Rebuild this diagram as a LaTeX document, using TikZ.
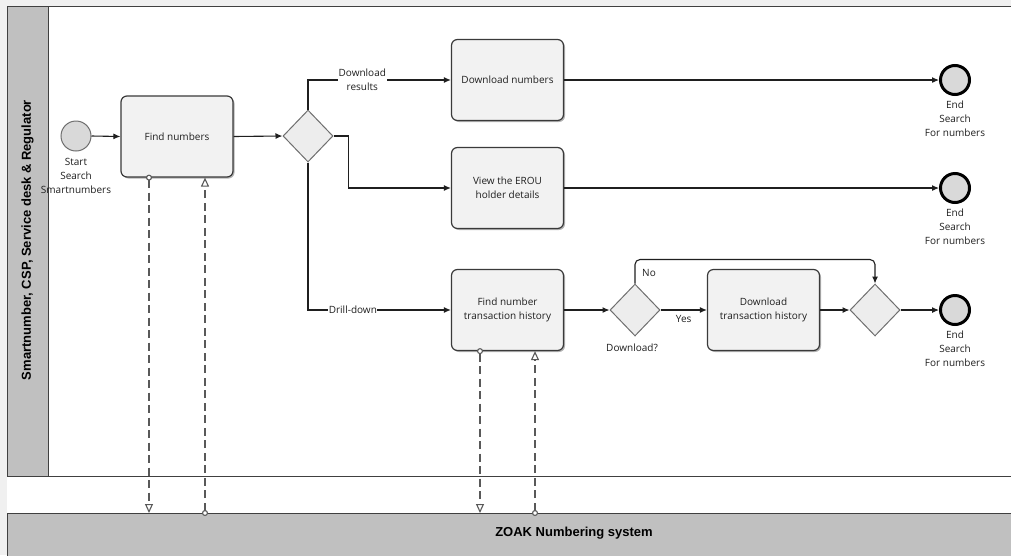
\documentclass[tikz,border=0pt]{standalone}
\usepackage{fontspec}
\setmainfont{Open Sans}
\newfontfamily\lanefont{Liberation Sans}
\usetikzlibrary{arrows.meta,shapes.geometric,shadows,calc}

\definecolor{bggray}{HTML}{F0F0F0}
\definecolor{lanegray}{HTML}{C0C0C0}
\definecolor{frame}{HTML}{404040}
\definecolor{taskfill}{HTML}{F2F2F2}
\definecolor{taskline}{HTML}{3A3A3A}
\definecolor{gatefill}{HTML}{EDEDED}
\definecolor{gateline}{HTML}{6F6F6F}
\definecolor{evfill}{HTML}{D9D9D9}
\definecolor{flowline}{HTML}{1F1F1F}
\definecolor{msgline}{HTML}{595959}
\definecolor{labeltext}{HTML}{1F1F1F}

\newcommand\bodyfont{\fontsize{10}{14}\selectfont}

\tikzset{
  task/.style={draw=taskline, fill=taskfill, rounded corners=6pt, line width=1.2pt,
    minimum width=112pt, minimum height=81pt, align=center, font=\bodyfont, text=labeltext,
    drop shadow={shadow xshift=1.5pt, shadow yshift=-1.5pt, opacity=0.3, fill=black}},
  gate/.style={diamond, draw=gateline, fill=gatefill, line width=1pt,
    minimum width=50pt, minimum height=52pt, inner sep=0pt},
  startev/.style={circle, draw=gateline, fill=evfill, line width=1pt, minimum size=30pt, inner sep=0pt},
  endev/.style={circle, draw=black, fill=evfill, line width=3pt, minimum size=29pt, inner sep=0pt},
  flow/.style={draw=flowline, line width=1.1pt, -{Latex[length=7pt,width=6pt]}},
  msg/.style={draw=msgline, line width=1.1pt, dash pattern=on 8pt off 4.5pt,
    {Circle[open, fill=white, length=6pt, width=6pt]}-{Triangle[open, fill=white, length=9pt, width=8pt]},
    shorten <=-3pt},
  lbl/.style={font=\bodyfont, text=labeltext, align=center, inner sep=1pt},
  pool/.style={draw=frame, line width=1.3pt, anchor=north west, inner sep=0pt},
}

\begin{document}
\begin{tikzpicture}[x=1pt, y=-1pt]
  \useasboundingbox (0,0) rectangle (1011,555);
  \clip (0,0) rectangle (1011,555);
  \fill[bggray] (0,0) rectangle (1011,555);
  \fill[white] (7,6) rectangle (1011,555);

  % pools and lane header
  \node[pool, fill=white, minimum width=1200pt, minimum height=470pt] (poolA) at (7,6) {};
  \node[pool, fill=lanegray, minimum width=41pt, minimum height=470pt] (lanehead) at (7,6) {};
  \node[rotate=90, font=\lanefont\bfseries\fontsize{13}{15}\selectfont, text=black] (lanetitle)
    at (27.5,240) {Smartnumber, CSP, Service desk \& Regulator};
  \node[pool, fill=lanegray, minimum width=1134pt, minimum height=60pt] (zoak) at (7,513) {};
  \node[font=\lanefont\bfseries\fontsize{13}{15}\selectfont, text=black] (zoaktitle)
    at (574,533) {ZOAK Numbering system};

  % events, tasks and gateways
  \node[startev] (start) at (76,136) {};
  \node[lbl, anchor=north] (startlbl) at ([yshift=-6pt]start.south) {Start\\Search\\Smartnumbers};

  \node[task] (findnum) at (177,136.5) {Find numbers};
  \node[gate] (gw1) at (308,136) {};

  \node[task] (dlnum) at (507.5,80) {Download numbers};
  \node[task] (view) at (507.5,188) {View the EROU\\holder details};
  \node[task] (fnth) at (507.5,310) {Find number\\transaction history};

  \node[gate] (gw2) at (635,310) {};
  \node[lbl] (gw2lbl) at (632,348) {Download?};
  \node[task] (dth) at (763.5,310) {Download\\transaction history};
  \node[gate] (gw3) at (875,310) {};

  \node[endev] (end1) at (955,80) {};
  \node[endev] (end2) at (955,188) {};
  \node[endev] (end3) at (955,310) {};
  \foreach \e in {end1,end2,end3}
    \node[lbl, anchor=north] (\e lbl) at ([yshift=-4pt]\e.south) {End\\Search\\For numbers};

  % sequence flows
  \draw[flow] (start.east) -- (findnum.west);
  \draw[flow] (findnum.east) -- (gw1.west);
  \draw[flow] (gw1.north) |- node[lbl, pos=0.69, fill=white] (lbldl) {Download\\results} (dlnum.west);
  \draw[flow] (gw1.east) -- ++(15,0) |- (view.west);
  \draw[flow] (gw1.south) |- node[lbl, pos=0.657, fill=white, inner sep=0.5pt] (lbldrill) {Drill-down} (fnth.west);
  \draw[flow] (dlnum.east) -- (end1.west);
  \draw[flow] (view.east) -- (end2.west);
  \draw[flow] (fnth.east) -- (gw2.west);
  \draw[flow] (gw2.east) -- node[lbl, below=4pt] (lblyes) {Yes} (dth.west);
  \draw[flow, rounded corners=5pt] (gw2.north) -- ++(0,-24) -| (gw3.north);
  \node[lbl] (lblno) at (649,273) {No};
  \draw[flow] (dth.east) -- (gw3.west);
  \draw[flow] (gw3.east) -- (end3.west);

  % message flows to and from the numbering system
  \coordinate (m1) at ($(findnum.south)+(-28,0)$);
  \coordinate (m2) at ($(findnum.south)+(28,0)$);
  \coordinate (m3) at ($(fnth.south)+(-27.5,0)$);
  \coordinate (m4) at ($(fnth.south)+(27.5,0)$);
  \draw[msg] (m1) -- (m1 |- zoak.north);
  \draw[msg] (m2 |- zoak.north) -- (m2);
  \draw[msg] (m3) -- (m3 |- zoak.north);
  \draw[msg] (m4 |- zoak.north) -- (m4);
\end{tikzpicture}
\end{document}
